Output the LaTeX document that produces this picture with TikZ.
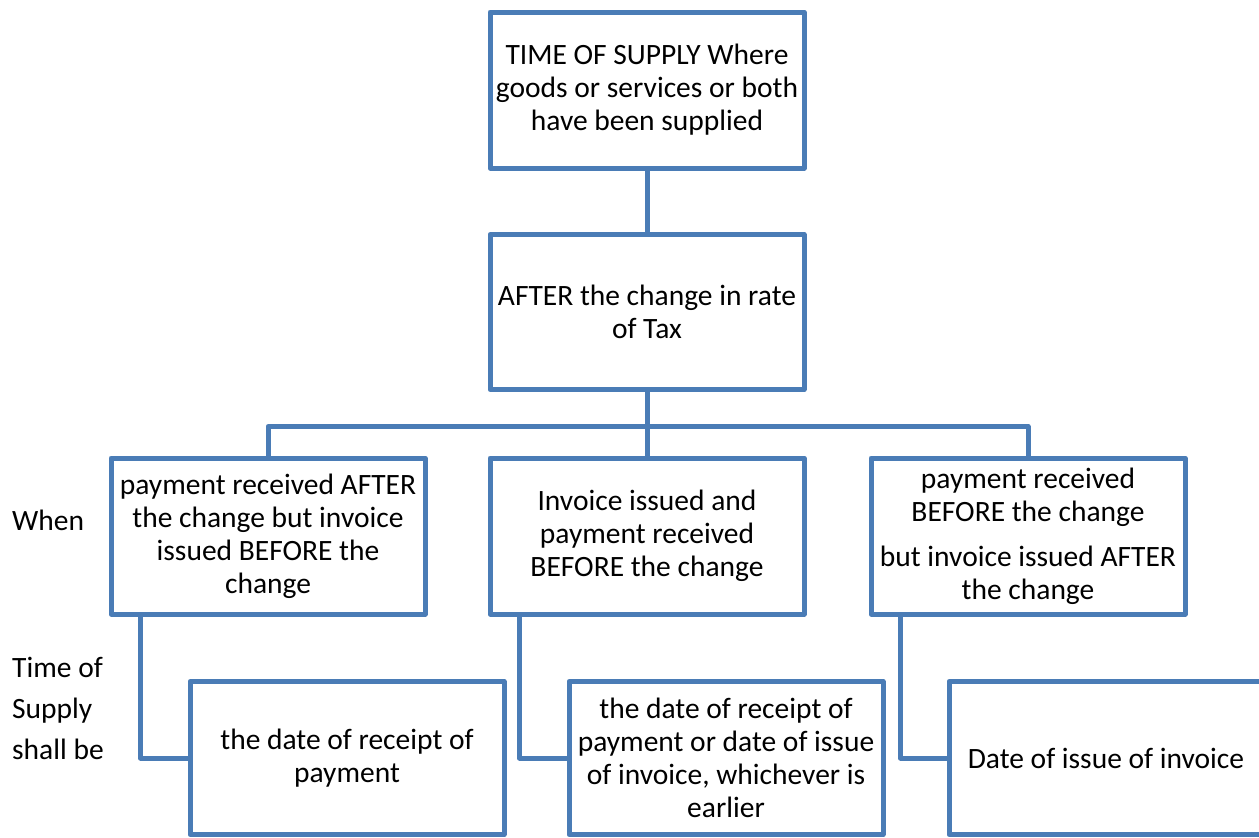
\documentclass[tikz,border=0pt]{standalone}
\usepackage{fontspec}
\setmainfont{Carlito}
\usetikzlibrary{calc}
\definecolor{boxblue}{RGB}{74,124,182}
\begin{document}
\begin{tikzpicture}[x=1pt,y=-1pt,
  box/.style={draw=boxblue, line width=5pt, line join=round, fill=white,
    minimum width=314pt, inner sep=4pt, align=center,
    font=\fontsize{29.5}{33}\selectfont},
  link/.style={draw=boxblue, line width=5pt, line join=round},
  side/.style={anchor=west, align=left, inner sep=0pt,
    font=\fontsize{29.5}{41}\selectfont}]
\useasboundingbox (0,0) rectangle (1259,838);
\clip (0,0) rectangle (1259,838);

% top of the tree
\node[box, minimum height=156pt] (top) at (647,90)
  {TIME OF SUPPLY Where\\goods or services or both\\have been supplied};
\node[box, minimum height=155pt] (mid) at (647,312)
  {AFTER the change in rate\\of Tax};

% the three cases
\node[box, minimum height=156pt] (L1) at (268,536)
  {payment received AFTER\\the change but invoice\\issued BEFORE the\\change};
\node[box, minimum height=156pt] (M1) at (647,536)
  {Invoice issued and\\payment received\\BEFORE the change};
\node[box, minimum height=156pt] (R1) at (1028,536)
  {payment received\\BEFORE the change\\[12pt]but invoice issued AFTER\\the change};

% resulting time of supply
\node[box, minimum height=153pt] (L2) at (347,758)
  {the date of receipt of\\payment};
\node[box, minimum height=153pt] (M2) at (726,758)
  {the date of receipt of\\payment or date of issue\\of invoice, whichever is\\earlier};
\node[box, minimum height=153pt] (R2) at (1106,758)
  {Date of issue of invoice};

% row labels
\node[side] (when) at (12,520) {When};
\node[side] (tos) at (12,708) {Time of\\Supply\\shall be};

% connectors
\coordinate (bus) at ($(mid.south)!0.54!(M1.north)$);
\draw[link] (top.south) -- (mid.north);
\draw[link] (mid.south) -- (M1.north);
\draw[link] (L1.north) |- (bus) -| (R1.north);
\draw[link] ([xshift=32pt]L1.south west) |- (L2.west);
\draw[link] ([xshift=32pt]M1.south west) |- (M2.west);
\draw[link] ([xshift=32pt]R1.south west) |- (R2.west);
\end{tikzpicture}
\end{document}
